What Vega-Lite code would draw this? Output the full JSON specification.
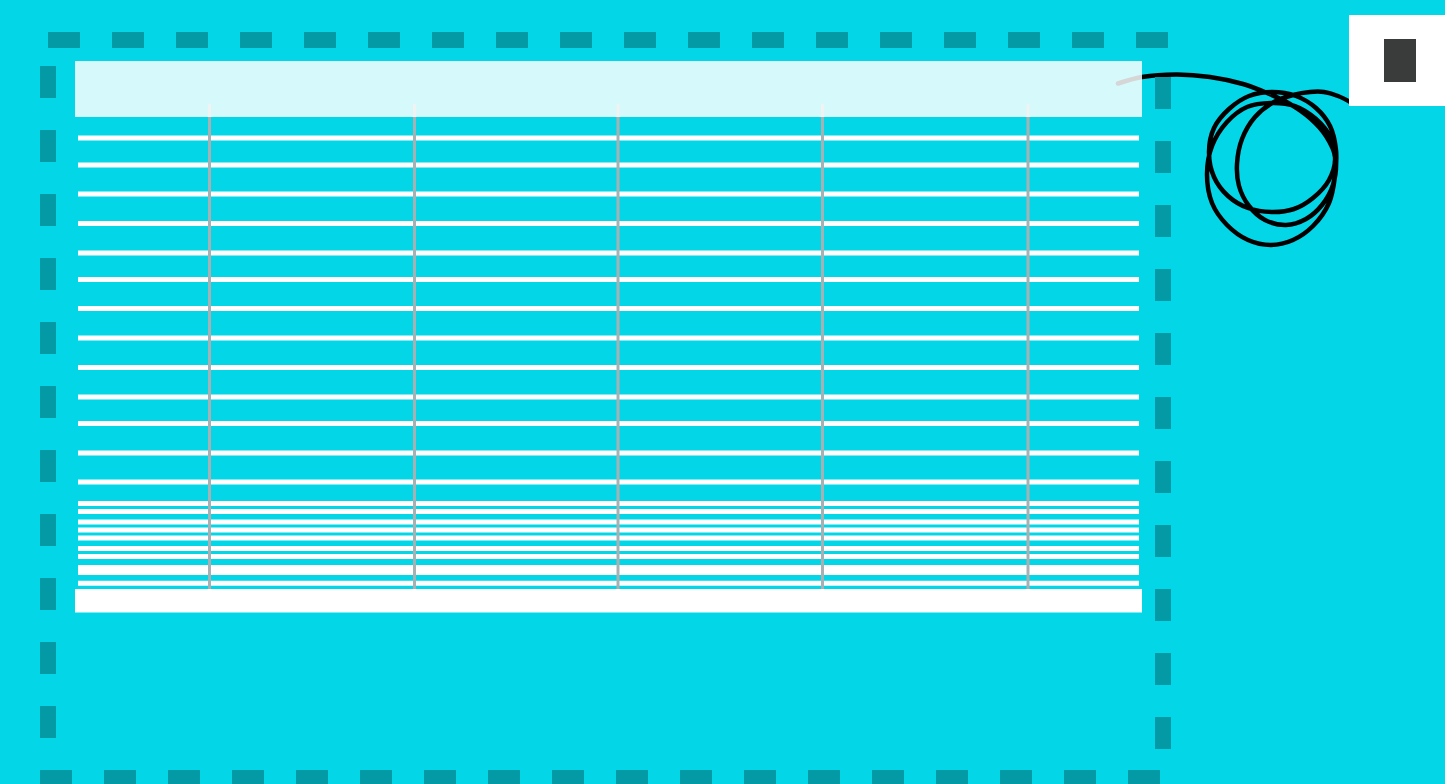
{
  "$schema": "https://vega.github.io/schema/vega-lite/v6.json",
  "width": 1445,
  "height": 784,
  "autosize": {"type": "none"},
  "padding": 0,
  "background": "#02d6e7",
  "config": {"view": {"stroke": null}},
  "datasets": {
    "hlines": [
      {"y": 138}, {"y": 165}, {"y": 194}, {"y": 223.5}, {"y": 253}, {"y": 279.5},
      {"y": 308.5}, {"y": 338}, {"y": 367.5}, {"y": 397}, {"y": 423.5}, {"y": 453},
      {"y": 482}, {"y": 503.5}, {"y": 511.5}, {"y": 522}, {"y": 530}, {"y": 538},
      {"y": 548.5}, {"y": 556.5}, {"y": 567.5}, {"y": 572.5}, {"y": 583.3}
    ],
    "vlines": [{"x": 209.5}, {"x": 414.5}, {"x": 618}, {"x": 822.5}, {"x": 1028}],
    "curve": [
      {"i": 1, "x": 1118, "y": 83.5}, {"i": 2, "x": 1142, "y": 77}, {"i": 3, "x": 1177, "y": 74.5},
      {"i": 4, "x": 1210, "y": 77}, {"i": 5, "x": 1243, "y": 84}, {"i": 6, "x": 1267, "y": 93},
      {"i": 7, "x": 1290, "y": 104}, {"i": 8, "x": 1311, "y": 119}, {"i": 9, "x": 1326, "y": 136},
      {"i": 10, "x": 1335, "y": 157}, {"i": 11, "x": 1329, "y": 180}, {"i": 12, "x": 1313, "y": 198},
      {"i": 13, "x": 1294, "y": 209}, {"i": 14, "x": 1272, "y": 212}, {"i": 15, "x": 1248, "y": 208},
      {"i": 16, "x": 1228, "y": 196}, {"i": 17, "x": 1214, "y": 177}, {"i": 18, "x": 1209, "y": 152},
      {"i": 19, "x": 1214, "y": 128}, {"i": 20, "x": 1229, "y": 109}, {"i": 21, "x": 1249, "y": 96},
      {"i": 22, "x": 1272, "y": 92}, {"i": 23, "x": 1296, "y": 96}, {"i": 24, "x": 1316, "y": 108},
      {"i": 25, "x": 1330, "y": 126}, {"i": 26, "x": 1336, "y": 150}, {"i": 27, "x": 1335, "y": 176},
      {"i": 28, "x": 1329, "y": 203}, {"i": 29, "x": 1313, "y": 226}, {"i": 30, "x": 1293, "y": 240},
      {"i": 31, "x": 1271, "y": 245}, {"i": 32, "x": 1248, "y": 240}, {"i": 33, "x": 1227, "y": 225},
      {"i": 34, "x": 1212, "y": 203}, {"i": 35, "x": 1207, "y": 174}, {"i": 36, "x": 1212, "y": 146},
      {"i": 37, "x": 1227, "y": 122}, {"i": 38, "x": 1247, "y": 107}, {"i": 39, "x": 1271, "y": 103},
      {"i": 40, "x": 1295, "y": 106}, {"i": 41, "x": 1316, "y": 119}, {"i": 42, "x": 1331, "y": 138},
      {"i": 43, "x": 1336, "y": 160}, {"i": 44, "x": 1333, "y": 185}, {"i": 45, "x": 1322, "y": 205},
      {"i": 46, "x": 1306, "y": 219}, {"i": 47, "x": 1286, "y": 225}, {"i": 48, "x": 1265, "y": 220},
      {"i": 49, "x": 1249, "y": 206}, {"i": 50, "x": 1239, "y": 186}, {"i": 51, "x": 1237, "y": 164},
      {"i": 52, "x": 1242, "y": 139}, {"i": 53, "x": 1255, "y": 117}, {"i": 54, "x": 1274, "y": 102},
      {"i": 55, "x": 1293, "y": 95}, {"i": 56, "x": 1310, "y": 92}, {"i": 57, "x": 1324, "y": 92},
      {"i": 58, "x": 1338, "y": 96}, {"i": 59, "x": 1352, "y": 103}
    ],
    "border": [
      {"x": 48, "x2": 1171, "y": 40, "y2": 40},
      {"x": 48, "x2": 48, "y": 66, "y2": 760},
      {"x": 1163, "x2": 1163, "y": 77, "y2": 760},
      {"x": 40, "x2": 1160, "y": 778, "y2": 778}
    ],
    "header": [{"x": 75, "x2": 1142, "y": 61, "y2": 117}],
    "footer": [{"x": 75, "x2": 1142, "y": 589, "y2": 612.5}],
    "badge": [{"x": 1349, "x2": 1445, "y": 15, "y2": 106}],
    "badgeInner": [{"x": 1384, "x2": 1416, "y": 39, "y2": 82}]
  },
  "layer": [
    {
      "data": {"name": "hlines"},
      "mark": {"type": "rule", "color": "#ffffff", "strokeWidth": 5, "strokeCap": "butt"},
      "encoding": {
        "x": {"datum": 78, "type": "quantitative", "scale": {"domain": [0, 1445], "nice": false, "zero": false}, "axis": null},
        "x2": {"datum": 1139},
        "y": {"field": "y", "type": "quantitative", "scale": {"domain": [0, 784], "nice": false, "zero": false, "reverse": true}, "axis": null}
      }
    },
    {
      "data": {"name": "vlines"},
      "mark": {"type": "rule", "color": "#a7b1b3", "strokeWidth": 3, "strokeCap": "butt"},
      "encoding": {
        "x": {"field": "x", "type": "quantitative"},
        "y": {"datum": 104, "type": "quantitative"},
        "y2": {"datum": 589}
      }
    },
    {
      "data": {"name": "curve"},
      "mark": {"type": "line", "color": "#000000", "strokeWidth": 4.5, "interpolate": "catmull-rom", "strokeCap": "round"},
      "encoding": {
        "x": {"field": "x", "type": "quantitative"},
        "y": {"field": "y", "type": "quantitative"},
        "order": {"field": "i", "type": "quantitative"}
      }
    },
    {
      "data": {"name": "header"},
      "mark": {"type": "rect", "color": "#ffffff", "opacity": 0.84},
      "encoding": {
        "x": {"field": "x", "type": "quantitative"},
        "x2": {"field": "x2"},
        "y": {"field": "y", "type": "quantitative"},
        "y2": {"field": "y2"}
      }
    },
    {
      "data": {"name": "footer"},
      "mark": {"type": "rect", "color": "#ffffff"},
      "encoding": {
        "x": {"field": "x", "type": "quantitative"},
        "x2": {"field": "x2"},
        "y": {"field": "y", "type": "quantitative"},
        "y2": {"field": "y2"}
      }
    },
    {
      "data": {"name": "border"},
      "mark": {"type": "rule", "color": "#039aa6", "strokeWidth": 16, "strokeDash": [32, 32], "strokeCap": "butt"},
      "encoding": {
        "x": {"field": "x", "type": "quantitative"},
        "x2": {"field": "x2"},
        "y": {"field": "y", "type": "quantitative"},
        "y2": {"field": "y2"}
      }
    },
    {
      "data": {"name": "badge"},
      "mark": {"type": "rect", "color": "#ffffff"},
      "encoding": {
        "x": {"field": "x", "type": "quantitative"},
        "x2": {"field": "x2"},
        "y": {"field": "y", "type": "quantitative"},
        "y2": {"field": "y2"}
      }
    },
    {
      "data": {"name": "badgeInner"},
      "mark": {"type": "rect", "color": "#3a3b3b"},
      "encoding": {
        "x": {"field": "x", "type": "quantitative"},
        "x2": {"field": "x2"},
        "y": {"field": "y", "type": "quantitative"},
        "y2": {"field": "y2"}
      }
    }
  ]
}
